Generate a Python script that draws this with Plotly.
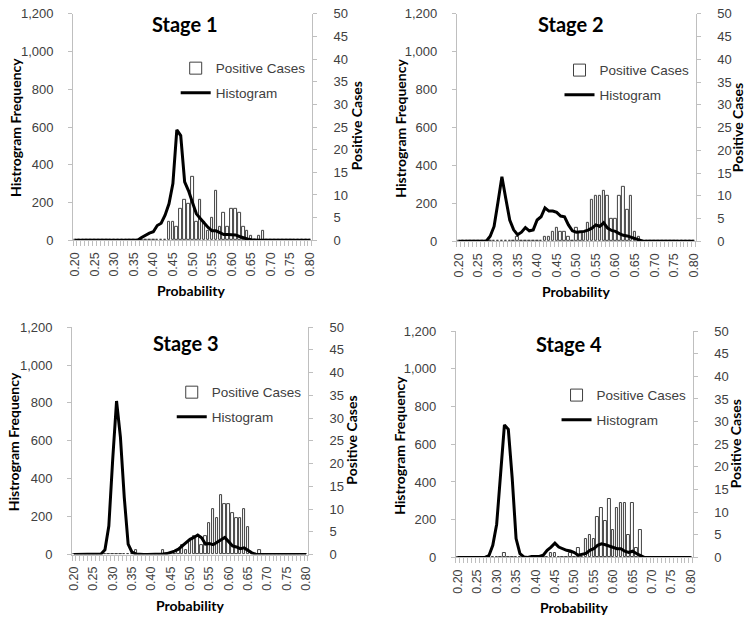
import plotly.graph_objects as go

# ---------------- data ----------------
prob = [0.20, 0.21, 0.22, 0.23, 0.24, 0.25, 0.26, 0.27, 0.28, 0.29,
        0.30, 0.31, 0.32, 0.33, 0.34, 0.35, 0.36, 0.37, 0.38, 0.39,
        0.40, 0.41, 0.42, 0.43, 0.44, 0.45, 0.46, 0.47, 0.48, 0.49,
        0.50, 0.51, 0.52, 0.53, 0.54, 0.55, 0.56, 0.57, 0.58, 0.59,
        0.60, 0.61, 0.62, 0.63, 0.64, 0.65, 0.66, 0.67, 0.68, 0.69,
        0.70, 0.71, 0.72, 0.73, 0.74, 0.75, 0.76, 0.77, 0.78, 0.79,
        0.80]

tick_vals = [0.20, 0.25, 0.30, 0.35, 0.40, 0.45, 0.50, 0.55, 0.60, 0.65, 0.70, 0.75, 0.80]
tick_text = ["0.20", "0.25", "0.30", "0.35", "0.40", "0.45", "0.50", "0.55", "0.60", "0.65", "0.70", "0.75", "0.80"]

stage_names = ["Stage 1", "Stage 2", "Stage 3", "Stage 4"]

hist_stage1 = [0, 0, 0, 0, 0, 0, 0, 0, 0, 0,
               0, 0, 0, 0, 0, 0, 0, 15, 28, 38,
               45, 78, 90, 133, 193, 300, 585, 555, 310, 262,
               200, 140, 115, 90, 68, 50, 50, 40, 30, 30,
               30, 28, 20, 12, 7, 3, 0, 0, 0, 0,
               0, 0, 0, 0, 0, 0, 0, 0, 0, 0,
               0]
pos_stage1 = [0, 0, 0, 0, 0, 0, 0, 0, 0, 0,
              0, 0, 0, 0, 0, 0, 0, 0, 0, 0,
              0, 0, 0, 0, 4, 4, 3, 7, 9, 8,
              14, 4, 9, 4, 2, 5, 11, 3, 6, 3,
              7, 7, 6, 3, 2, 1, 0, 1, 2, 0,
              0, 0, 0, 0, 0, 0, 0, 0, 0, 0,
              0]

hist_stage2 = [0, 0, 0, 0, 0, 0, 0, 0, 26, 78,
               207, 340, 224, 112, 60, 34, 48, 72, 55, 60,
               112, 129, 176, 159, 159, 152, 133, 129, 86, 55,
               48, 48, 52, 59, 69, 86, 78, 97, 69, 57,
               52, 40, 31, 28, 21, 14, 3, 0, 0, 0,
               0, 0, 0, 0, 0, 0, 0, 0, 0, 0,
               0]
pos_stage2 = [0, 0, 0, 0, 0, 0, 0, 0, 0, 0,
              0, 0, 0, 0, 0, 1, 0, 0, 0, 0,
              0, 0, 1, 1, 2, 3, 2, 2, 1, 0,
              3, 2, 2, 4, 9, 10, 10, 11, 10, 5,
              5, 10, 12, 7, 10, 2, 1, 0, 0, 0,
              0, 0, 0, 0, 0, 0, 0, 0, 0, 0,
              0]

hist_stage3 = [0, 0, 0, 0, 0, 0, 0, 3, 25, 150,
               500, 810, 620, 300, 55, 12, 3, 0, 0, 0,
               0, 0, 0, 3, 5, 10, 18, 28, 45, 62,
               80, 90, 103, 88, 55, 58, 52, 65, 78, 90,
               68, 45, 40, 31, 35, 20, 9, 2, 0, 0,
               0, 0, 0, 0, 0, 0, 0, 0, 0, 0,
               0]
pos_stage3 = [0, 0, 0, 0, 0, 0, 0, 0, 0, 0,
              0, 0, 0, 0, 0, 0, 1, 0, 0, 0,
              0, 0, 0, 1, 0, 0, 0, 1, 2, 1,
              3, 4, 4, 2, 4, 7, 10, 8, 13, 11,
              11, 9, 8, 8, 10, 6, 0, 0, 1, 0,
              0, 0, 0, 0, 0, 0, 0, 0, 0, 0,
              0]

hist_stage4 = [0, 0, 0, 0, 0, 0, 0, 0, 9, 64,
               176, 450, 702, 679, 420, 100, 20, 3, 0, 5,
               5, 5, 12, 38, 55, 76, 55, 46, 38, 34,
               26, 12, 15, 21, 38, 46, 64, 72, 67, 60,
               55, 46, 46, 33, 26, 33, 21, 9, 0, 0,
               0, 0, 0, 0, 0, 0, 0, 0, 0, 0,
               0]
pos_stage4 = [0, 0, 0, 0, 0, 0, 0, 0, 0, 0,
              0, 0, 1, 0, 0, 0, 0, 0, 0, 0,
              0, 0, 0, 0, 1, 1, 0, 0, 0, 1,
              0, 2, 0, 4, 5, 4, 9, 11, 8, 13,
              6, 11, 12, 12, 5, 12, 2, 6, 0, 0,
              0, 0, 0, 0, 0, 0, 0, 0, 0, 0,
              0]

hist_all = [hist_stage1, hist_stage2, hist_stage3, hist_stage4]
pos_all = [pos_stage1, pos_stage2, pos_stage3, pos_stage4]

# ---------------- layout geometry (pixels) ----------------
W, H = 750, 624
# left, right, top, bottom of each plot area
panels = [(69, 311, 7, 239), (458, 700, 7, 240), (68, 307, 328, 561), (457, 697, 332, 564)]
titles_pos = [(182, 17), (574, 17), (183, 344), (572, 345)]
ytitle_left = [(10, 123), (400, 124), (8, 445), (400, 449)]
ytitle_right = [(356, 122), (742, 124), (351, 444), (740, 448)]
xtitle_pos = [(189, 290), (579, 291), (187, 613), (577, 615)]
legend_pos = [(173, 47), (562, 49), (169, 379), (559, 382)]


def px(x):
    return x / W


def py(y):
    return 1 - y / H


TICK_FONT = dict(family="Liberation Sans, Arial", size=13, color="#404040")
BOLD_FONT = "Lato, Liberation Sans, Arial"
AXIS_GRAY = "#bfbfbf"

fig = go.Figure()
layout = dict(width=W, height=H, margin=dict(l=0, r=0, t=0, b=0),
              paper_bgcolor="white", plot_bgcolor="rgba(0,0,0,0)",
              showlegend=True, bargap=0.0)
annotations = []

for i in range(4):
    n = i + 1
    xa = "x" if n == 1 else f"x{n}"
    yb_idx = 2 * i + 1
    yl_idx = 2 * i + 2
    yb = "y" if yb_idx == 1 else f"y{yb_idx}"
    yl = f"y{yl_idx}"
    leg = "legend" if n == 1 else f"legend{n}"

    fig.add_trace(go.Bar(
        x=prob, y=pos_all[i], xaxis=xa, yaxis=yb, width=0.0065,
        name="Positive Cases", legend=leg, legendgroup=f"pc{n}",
        marker=dict(color="white", line=dict(color="#404040", width=1)),
    ))
    fig.add_trace(go.Scatter(
        x=prob, y=hist_all[i], xaxis=xa, yaxis=yl, mode="lines",
        name="Histogram", legend=leg, legendgroup=f"h{n}",
        line=dict(color="black", width=3),
    ))

    l, r, t, b = panels[i]
    xkey = "xaxis" if n == 1 else f"xaxis{n}"
    ybkey = "yaxis" if yb_idx == 1 else f"yaxis{yb_idx}"
    ylkey = f"yaxis{yl_idx}"

    layout[xkey] = dict(
        domain=[px(l), px(r)], anchor=yb, range=[0.195, 0.805],
        tickmode="array", tickvals=tick_vals, ticktext=tick_text,
        tickangle=-90, ticks="", tickfont=dict(family="Liberation Sans, Arial", size=12.5, color="#404040"),
        showline=True, linecolor=AXIS_GRAY, linewidth=1, showgrid=False, zeroline=False,
        ticklabelstandoff=6,
        minor=dict(ticks="outside", ticklen=5, tickcolor=AXIS_GRAY, tickwidth=1,
                   tickmode="linear", tick0=0.195, dtick=0.01, showgrid=False),
    )
    layout[ybkey] = dict(
        domain=[py(b), py(t)], anchor=xa, side="right", range=[0, 50],
        tickmode="linear", tick0=0, dtick=5, ticks="outside", ticklen=4,
        tickcolor=AXIS_GRAY, tickfont=TICK_FONT, showline=True, linecolor=AXIS_GRAY,
        showgrid=False, zeroline=False, ticklabelstandoff=14,
    )
    layout[ylkey] = dict(
        overlaying=yb, anchor=xa, side="left", range=[0, 1200],
        tickmode="linear", tick0=0, dtick=200, tickformat=",d", ticks="outside",
        ticklen=4, tickcolor=AXIS_GRAY, tickfont=TICK_FONT, showline=True,
        linecolor=AXIS_GRAY, showgrid=False, zeroline=False, ticklabelstandoff=12,
    )
    lx, ly = legend_pos[i]
    layout[leg] = dict(
        x=px(lx), y=py(ly), xanchor="left", yanchor="top", bgcolor="rgba(0,0,0,0)",
        font=dict(family="Liberation Sans, Arial", size=13.5, color="#404040"),
        traceorder="grouped", tracegroupgap=4, itemwidth=30,
    )

    tx, ty = titles_pos[i]
    annotations.append(dict(text=f"<b>{stage_names[i]}</b>", x=px(tx), y=py(ty),
                            xref="paper", yref="paper", showarrow=False,
                            xanchor="center", yanchor="middle",
                            font=dict(family=BOLD_FONT, size=20, color="black")))
    ax_, ay_ = ytitle_left[i]
    annotations.append(dict(text="<b>Histrogram Frequency</b>", x=px(ax_), y=py(ay_),
                            xref="paper", yref="paper", showarrow=False, textangle=-90,
                            xanchor="center", yanchor="middle",
                            font=dict(family=BOLD_FONT, size=14, color="black")))
    rx_, ry_ = ytitle_right[i]
    annotations.append(dict(text="<b>Positive Cases</b>", x=px(rx_), y=py(ry_),
                            xref="paper", yref="paper", showarrow=False, textangle=-90,
                            xanchor="center", yanchor="middle",
                            font=dict(family=BOLD_FONT, size=14, color="black")))
    bx_, by_ = xtitle_pos[i]
    annotations.append(dict(text="<b>Probability</b>", x=px(bx_), y=py(by_),
                            xref="paper", yref="paper", showarrow=False,
                            xanchor="center", yanchor="middle",
                            font=dict(family=BOLD_FONT, size=14, color="black")))

layout["annotations"] = annotations
fig.update_layout(**layout)
fig.write_html("out.html")
